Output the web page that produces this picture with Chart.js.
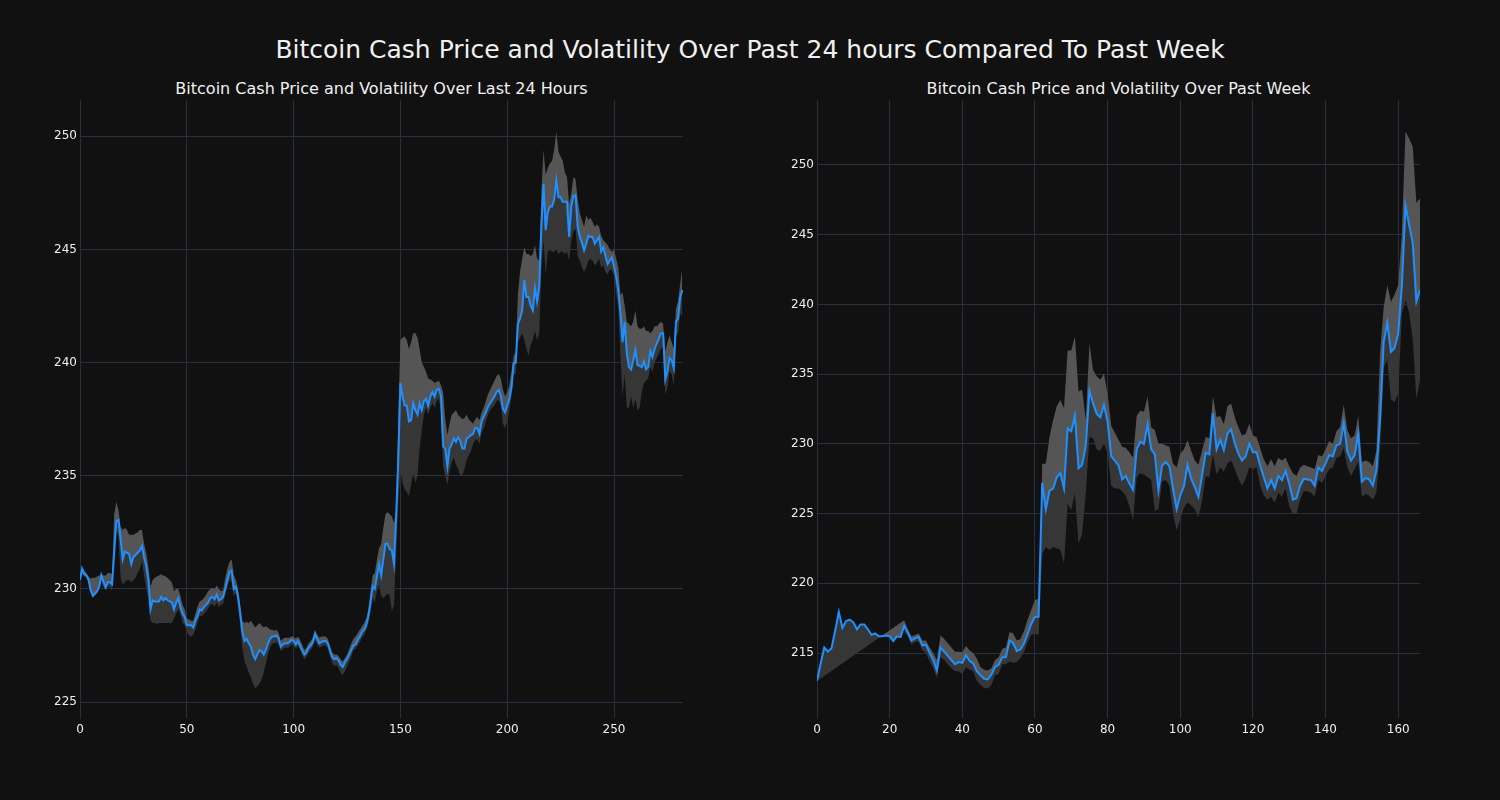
<!DOCTYPE html>
<html>
<head>
<meta charset="utf-8">
<script src="https://cdn.jsdelivr.net/npm/chart.js@4.4.1/dist/chart.umd.min.js"></script>
<style>
  body { margin: 0; background: #111111; width: 1500px; height: 800px; overflow: hidden; font-family: "DejaVu Sans", sans-serif; }
  .title { position: absolute; color: #f0f0f0; text-align: center; white-space: nowrap; }
  #mainTitle { left: 0; width: 1500px; top: 35px; font-size: 25px; line-height: 30px; }
  .sub { top: 79px; font-size: 16px; line-height: 20px; }
  #leftTitle { left: 80px; width: 603px; }
  #rightTitle { left: 817px; width: 603px; }
  .box { position: absolute; top: 89px; width: 700px; height: 682px; }
</style>
</head>
<body>
<div id="mainTitle" class="title">Bitcoin Cash Price and Volatility Over Past 24 hours Compared To Past Week</div>
<div id="leftTitle" class="title sub">Bitcoin Cash Price and Volatility Over Last 24 Hours</div>
<div id="rightTitle" class="title sub">Bitcoin Cash Price and Volatility Over Past Week</div>
<div class="box" style="left:0px"><canvas id="dayChart" width="700" height="682"></canvas></div>
<div class="box" style="left:737px"><canvas id="weekChart" width="700" height="682"></canvas></div>
<script>
// last 24 hours (5 min steps)
const dayPrice = [
  230.4, 230.9, 230.66, 230.6, 230.4, 229.95, 229.7, 229.8, 229.9, 230.1,
  230.6, 230.3, 230.07, 230.3, 230.3, 230.2, 231.6, 233.0, 233.05, 232.2,
  231.3, 231.65, 231.6, 231.55, 231.1, 231.4, 231.5, 231.6, 231.7, 231.9,
  231.4, 231.0, 230.4, 229.1, 229.5, 229.45, 229.45, 229.45, 229.65, 229.5,
  229.6, 229.5, 229.45, 229.4, 229.1, 229.4, 229.6, 229.2, 228.9, 228.75,
  228.4, 228.4, 228.4, 228.3, 228.6, 228.8, 229.1, 229.05, 229.2, 229.3,
  229.4, 229.6, 229.65, 229.55, 229.75, 229.5, 229.55, 229.65, 230.0, 230.4,
  230.75, 230.8, 230.0, 230.1, 229.65, 228.9, 228.1, 227.7, 227.8, 227.6,
  227.45, 227.1, 226.9, 227.1, 227.3, 227.25, 227.1, 227.3, 227.6, 227.8,
  227.9, 227.9, 227.95, 227.8, 227.45, 227.55, 227.6, 227.6, 227.65, 227.75,
  227.7, 227.55, 227.7, 227.5, 227.3, 227.1, 227.2, 227.4, 227.5, 227.65,
  228.0, 227.8, 227.6, 227.65, 227.7, 227.7, 227.6, 227.3, 227.0, 226.9,
  226.95, 226.85, 226.65, 226.55, 226.75, 226.9, 227.1, 227.3, 227.5, 227.55,
  227.75, 227.9, 228.1, 228.2, 228.4, 228.8, 229.4, 230.1, 230.0, 230.55,
  231.1, 230.6, 231.3, 232.0, 232.0, 231.75, 231.7, 231.1, 233.2, 235.7,
  239.1, 238.5, 238.1, 238.1, 237.4, 237.45, 238.2, 237.9, 237.7, 238.2,
  237.9, 238.3, 238.4, 238.1, 238.5, 238.7, 238.5, 238.8, 238.85, 238.5,
  236.3, 236.2, 235.4, 236.2, 236.4, 236.65, 236.5, 236.7, 236.55, 236.2,
  236.2, 236.65, 236.7, 236.8, 236.85, 237.1, 237.1, 236.85, 237.4, 237.6,
  237.8, 238.05, 238.2, 238.35, 238.5, 238.7, 238.8, 238.55, 237.95, 237.8,
  238.1, 238.4, 238.9, 239.95, 240.0, 241.7, 241.95, 242.3, 243.65, 242.9,
  242.9, 242.5, 242.3, 243.3, 242.7, 243.35, 246.0, 247.9, 245.85, 246.65,
  246.9, 246.9, 247.2, 248.05, 247.3, 247.3, 247.1, 247.1, 247.1, 245.55,
  246.9, 247.35, 247.4, 246.0, 245.55, 245.3, 244.95, 245.25, 245.6, 245.55,
  245.55, 245.25, 245.4, 245.55, 244.9, 245.1, 244.7, 244.35, 244.5, 244.65,
  244.25, 243.8, 243.2, 242.2, 240.9, 241.8, 240.4, 239.8, 239.7, 240.1,
  240.55, 239.9, 239.85, 239.8, 240.05, 239.7, 239.8, 240.5, 240.25, 240.6,
  240.85, 241.05, 241.3, 241.3, 239.25, 239.6, 240.2, 240.1, 239.75, 241.8,
  241.95, 242.9, 243.2
];
const dayUpper = [
  230.6, 230.95, 230.8, 230.7, 230.55, 230.45, 230.5, 230.5, 230.55, 230.6,
  230.65, 230.6, 230.6, 230.7, 230.7, 230.65, 233.3, 233.85, 233.5, 232.75,
  232.6, 232.7, 232.6, 232.4, 232.4, 232.4, 232.45, 232.5, 232.6, 232.6,
  232.0, 231.6, 231.0, 230.1, 230.4, 230.5, 230.55, 230.6, 230.65, 230.6,
  230.55, 230.5, 230.4, 230.3, 229.9, 230.0, 230.0, 229.7, 229.3, 229.1,
  228.7, 228.65, 228.6, 228.6, 228.9, 229.2, 229.45, 229.5, 229.6, 229.75,
  229.9, 230.0, 230.05, 230.0, 230.15, 230.0, 229.9, 229.95, 230.5, 230.9,
  231.2, 231.3, 230.6, 230.4, 230.0, 229.3, 228.6, 228.5, 228.55, 228.5,
  228.6, 228.45, 228.3, 228.4, 228.5, 228.4, 228.3, 228.35, 228.3, 228.2,
  228.2, 228.15, 228.2, 228.05, 227.7, 227.8, 227.85, 227.85, 227.85, 227.9,
  227.9, 227.8, 227.9, 227.75, 227.55, 227.3, 227.4, 227.6, 227.7, 227.85,
  228.2, 228.0, 227.85, 227.9, 227.9, 227.9, 227.8, 227.5, 227.2, 227.1,
  227.1, 227.05, 226.9, 226.8, 226.95, 227.1, 227.35, 227.6, 227.8, 227.9,
  228.05, 228.2, 228.35, 228.5, 228.7, 229.1, 229.9, 230.6, 230.7, 231.3,
  231.8, 232.0, 232.7, 233.3, 233.4, 233.3, 233.2, 232.9, 233.6, 237.5,
  241.0, 241.1, 241.15, 241.0, 240.6, 240.9, 241.3, 241.3, 241.1, 240.6,
  240.0, 239.8, 239.6, 239.3, 239.25, 239.2, 239.1, 239.15, 239.2, 239.0,
  238.7, 237.5, 236.8, 237.3, 237.7, 237.8, 237.9, 237.7, 237.6, 237.5,
  237.55, 237.7, 237.5, 237.4, 237.3, 237.5, 237.6, 237.45, 237.8, 238.0,
  238.3, 238.6, 238.8, 239.0, 239.2, 239.4, 239.5, 239.3, 238.8, 238.5,
  238.7, 239.0, 239.6, 240.3, 240.5, 243.0, 244.0, 244.6, 245.1, 244.8,
  244.8, 244.7, 244.8, 245.2, 244.6, 244.5, 247.5, 249.4, 248.3, 248.6,
  248.8, 248.9, 249.4, 250.2, 249.3, 249.1, 248.9, 248.4, 248.2, 247.0,
  247.5, 248.2, 248.1, 247.2, 246.6, 246.3, 246.0, 246.5, 246.3, 246.4,
  246.2, 246.0, 246.1, 246.0, 245.6, 245.4, 245.3, 245.2, 245.0, 244.9,
  245.0, 244.6, 244.2, 243.0, 243.1, 242.5, 241.8, 241.7, 241.6, 241.8,
  242.3, 241.6, 241.5, 241.5, 241.6, 241.4, 241.4, 241.3, 241.4, 241.6,
  241.6, 241.7, 241.8, 241.7, 240.5, 240.9, 241.2, 240.9, 240.6, 242.4,
  242.7, 243.5, 244.2
];
const dayLower = [
  230.3, 230.7, 230.55, 230.5, 230.3, 229.85, 229.6, 229.7, 229.8, 230.0,
  230.4, 230.1, 229.95, 230.1, 230.1, 229.9, 231.4, 232.6, 232.3, 230.5,
  230.2, 230.3, 230.4, 230.4, 230.3, 230.4, 230.5, 230.7, 230.9, 231.2,
  230.6, 230.0, 229.6, 228.6, 228.5, 228.5, 228.45, 228.5, 228.5, 228.5,
  228.5, 228.5, 228.5, 228.5, 228.7, 228.9, 229.1, 228.9, 228.5, 228.4,
  228.1, 227.95, 227.9, 227.95, 228.2, 228.5, 228.8, 228.8, 228.9, 229.0,
  229.15, 229.3, 229.35, 229.2, 229.4, 229.2, 229.3, 229.35, 229.8, 230.1,
  230.4, 230.3, 229.7, 229.8, 229.3, 228.4, 227.4, 226.8, 226.6, 226.3,
  226.1, 225.8, 225.6, 225.7, 225.8, 226.0, 226.3, 226.7, 227.1, 227.4,
  227.6, 227.6, 227.65, 227.55, 227.25, 227.35, 227.4, 227.4, 227.45, 227.55,
  227.5, 227.35, 227.5, 227.3, 227.1, 226.9, 227.0, 227.2, 227.3, 227.45,
  227.75, 227.55, 227.4, 227.45, 227.5, 227.5, 227.4, 227.05, 226.75, 226.6,
  226.65, 226.5, 226.3, 226.2, 226.35, 226.55, 226.8, 227.0, 227.3, 227.35,
  227.5, 227.65, 227.85, 227.95, 228.15, 228.5, 229.0, 229.6, 229.4, 229.9,
  230.2, 229.7, 229.6, 229.7, 229.8, 229.7, 229.0, 229.3, 231.6, 233.8,
  235.2, 234.7, 234.4, 234.3, 234.1, 234.6, 235.1, 234.7, 235.0, 236.2,
  237.0, 237.7, 238.0, 237.7, 238.0, 238.2, 238.0, 238.3, 238.4, 237.8,
  235.4, 235.0, 234.6, 235.2, 235.6, 235.8, 235.5, 235.3, 235.0, 235.0,
  235.3, 235.7, 235.9, 236.1, 236.4, 236.6, 236.6, 236.4, 236.9, 237.1,
  237.4, 237.7, 237.9, 238.0, 238.1, 238.3, 238.35, 238.1, 237.3, 237.1,
  237.4, 237.9, 238.5, 239.5, 239.5, 240.9, 241.1, 241.3, 241.0, 240.6,
  240.3, 240.8, 241.0, 241.4, 241.0, 241.3, 244.2, 245.4, 243.9, 244.9,
  245.0, 244.9, 244.9, 245.0, 244.8, 244.9, 244.9, 244.8, 244.9, 244.5,
  245.4, 245.8, 245.9, 244.7, 244.5, 244.2, 244.0, 244.2, 244.5, 244.6,
  244.5, 244.3, 244.4, 244.6, 244.2, 244.3, 244.0, 243.9, 244.1, 244.1,
  243.8, 243.1, 242.4, 240.3, 238.5, 239.5, 238.0, 238.0, 238.5, 238.0,
  238.4, 237.9, 238.0, 238.7, 239.1, 239.2, 239.3, 239.8, 239.6, 240.0,
  240.2, 240.4, 240.6, 240.7, 238.6, 238.9, 239.6, 239.5, 239.0, 241.2,
  241.3, 242.2, 242.0
];

// past week (hourly)
const weekPrice = [
  213.0, 214.25, 215.4, 215.1, 215.35, 216.6, 217.95, 216.8, 217.3, 217.4,
  217.2, 216.7, 217.05, 217.05, 216.7, 216.3, 216.4, 216.2, 216.2, 216.25,
  216.2, 215.85, 216.2, 216.15, 216.95, 216.45, 215.9, 216.05, 216.15, 215.55,
  215.6, 215.0, 214.5, 213.75, 215.4, 215.1, 214.8, 214.5, 214.2, 214.35,
  214.3, 214.85, 214.45, 214.25, 213.7, 213.4, 213.15, 213.1, 213.45, 214.0,
  214.15, 214.7, 214.7, 215.9, 215.7, 215.15, 215.25, 215.7, 216.4, 217.1,
  217.6, 217.6, 227.2, 225.3, 226.65, 226.8, 227.6, 227.9, 226.8, 231.1,
  230.9, 232.0, 228.25, 228.5, 229.9, 233.8, 232.9, 232.15, 231.9, 232.8,
  231.6, 229.1, 228.8, 228.45, 227.45, 227.7, 227.15, 226.7, 229.6, 230.15,
  230.0, 231.4, 229.6, 229.25, 226.65, 228.45, 228.7, 228.4, 226.8, 225.3,
  226.3, 226.95, 228.5, 227.5, 226.9, 226.2, 227.75, 229.35, 229.25, 232.2,
  229.6, 230.3, 229.55, 230.75, 231.05, 230.05, 229.3, 228.8, 229.1, 230.0,
  229.4, 229.4, 228.45, 227.6, 226.8, 227.4, 226.8, 227.7, 227.4, 228.05,
  227.15, 226.0, 226.1, 227.0, 227.5, 227.45, 227.4, 227.0, 228.3, 228.05,
  228.6, 229.2, 229.1, 229.9, 230.0, 231.5, 229.45, 228.8, 229.2, 230.75,
  227.3, 227.55, 227.45, 227.0, 228.1, 231.7, 237.3, 238.7, 236.6, 236.9,
  237.9, 241.3, 247.1, 245.7, 244.4, 240.2, 241.05
];
const weekUpper = [
  213.0, null, null, null, null, null, null, null, null, null,
  null, null, null, null, null, null, null, null, null, null,
  null, null, null, null, 217.35, 216.7, 216.2, 216.3, 216.4, 215.9,
  215.9, 215.4, 215.0, 214.5, 216.25, 216.0, 215.7, 215.4, 215.1, 215.1,
  215.05, 215.5, 215.2, 215.0, 214.6, 214.0, 213.8, 213.75, 213.9, 214.5,
  214.7, 215.3, 215.4, 216.5, 216.4, 215.9, 216.0, 216.6, 217.4, 218.1,
  218.8, 218.9, 228.55, 228.6, 230.5, 231.7, 232.7, 233.15, 232.55, 236.7,
  236.7, 237.7, 233.75, 233.9, 231.7, 237.2, 235.3, 234.85, 234.6, 235.05,
  233.6, 231.3, 230.8, 230.3, 229.8, 229.7, 229.4, 229.0, 232.0, 232.4,
  232.3, 233.4, 231.2, 231.0, 230.0, 230.0, 229.9, 229.8, 228.6, 228.3,
  229.3, 229.6, 230.25, 229.5, 228.8, 228.5, 229.5, 230.5, 230.4, 233.4,
  231.9, 232.0, 231.4, 232.7, 232.9, 231.9, 231.2, 230.6, 230.7, 231.45,
  230.6, 230.5, 229.7, 228.9, 228.4, 228.9, 228.4, 229.0, 228.8, 229.0,
  228.4, 227.9, 227.7, 228.3, 228.5, 228.4, 228.3, 228.2, 229.2, 229.1,
  229.6, 230.2, 230.0, 230.9, 231.2, 232.8, 231.0, 230.4, 230.6, 232.0,
  228.7, 228.8, 228.7, 228.4, 229.5, 236.5, 239.8, 241.4, 240.2, 240.7,
  241.4, 245.1, 252.4, 251.9, 251.3, 247.3, 247.6
];
const weekLower = [
  null, null, null, null, null, null, null, null, null, null,
  null, null, null, null, null, null, null, null, null, null,
  null, null, null, null, 216.6, 216.2, 215.6, 215.8, 215.8, 215.2,
  215.0, 214.4, 213.9, 213.2, 214.7, 214.5, 214.2, 213.9, 213.7, 213.7,
  213.5, 214.0, 213.8, 213.7, 213.0, 212.7, 212.5, 212.45, 212.7, 213.4,
  213.5, 214.2, 214.2, 214.4, 214.3, 214.35, 214.6, 215.1, 215.8, 216.3,
  216.4, 216.3, 222.1, 222.6, 222.4, 222.6, 222.5, 222.4, 221.4, 225.7,
  225.25, 226.45, 222.85, 223.55, 226.45, 230.5, 230.4, 229.6, 229.5, 230.0,
  229.3, 227.0, 226.8, 226.8, 226.6, 226.3, 225.5, 224.5, 227.6, 227.9,
  227.8, 227.6, 227.4, 225.2, 225.3, 227.3, 227.4, 227.0, 225.0, 223.8,
  224.6, 225.4, 225.8, 225.6, 225.3, 224.75, 225.9, 227.7, 227.6, 229.2,
  227.8, 228.3, 228.0, 228.6, 228.8, 228.2, 227.5, 227.0, 227.5, 228.3,
  228.2, 228.3, 227.0, 226.3, 226.0, 226.2, 225.8, 226.5, 226.2, 226.8,
  225.5, 225.0, 225.0, 226.0, 226.6, 226.6, 226.5, 226.2, 227.4, 227.2,
  227.7, 228.2, 228.3, 229.0, 229.1, 229.7, 228.3, 227.7, 228.2, 228.7,
  226.2, 226.4, 226.3, 226.0, 226.5, 229.5, 235.5, 236.0, 233.2, 233.0,
  233.6, 239.3, 240.3, 239.4, 237.5, 233.2, 234.6
];

const bandLight = '#555555';
const bandDark = '#363636';
const gridColor = '#283040';
const tickColor = '#eeeeee';

function toPoints(values) {
  return values.map((v, i) => ({ x: i, y: v }));
}

function makeChart(canvasId, price, upper, lower, xMax, xStep, yMin, yMax) {
  const ctx = document.getElementById(canvasId).getContext('2d');
  return new Chart(ctx, {
    type: 'line',
    data: {
      datasets: [
        {
          label: 'Price',
          data: toPoints(price),
          borderColor: '#1e90ff',
          borderWidth: 2,
          pointRadius: 0,
          tension: 0,
          fill: false
        },
        {
          label: 'Upper',
          data: toPoints(upper),
          borderColor: 'rgba(0,0,0,0)',
          borderWidth: 0,
          pointRadius: 0,
          tension: 0,
          spanGaps: true,
          fill: { target: 0, above: bandLight, below: bandDark }
        },
        {
          label: 'Lower',
          data: toPoints(lower),
          borderColor: 'rgba(0,0,0,0)',
          borderWidth: 0,
          pointRadius: 0,
          tension: 0,
          fill: { target: 0, above: bandLight, below: bandDark }
        }
      ]
    },
    options: {
      responsive: false,
      animation: false,
      events: [],
      layout: { padding: { top: 11, right: 17, left: 0, bottom: 0 } },
      plugins: {
        legend: { display: false },
        tooltip: { enabled: false }
      },
      scales: {
        x: {
          type: 'linear',
          min: 0,
          max: xMax,
          afterFit: scale => { scale.height = 53; },
          grid: { color: gridColor, lineWidth: 1, drawTicks: false },
          border: { display: false },
          ticks: {
            stepSize: xStep,
            includeBounds: false,
            color: tickColor,
            padding: 5,
            maxRotation: 0,
            font: { family: 'DejaVu Sans', size: 12 }
          }
        },
        y: {
          min: yMin,
          max: yMax,
          afterFit: scale => { scale.width = 80; },
          grid: { color: gridColor, lineWidth: 1, drawTicks: false },
          border: { display: true, color: gridColor, width: 1 },
          ticks: {
            stepSize: 5,
            includeBounds: false,
            color: tickColor,
            padding: 3,
            font: { family: 'DejaVu Sans', size: 12 }
          }
        }
      }
    }
  });
}

makeChart('dayChart', dayPrice, dayUpper, dayLower, 282.3, 50, 224.3, 251.6);
makeChart('weekChart', weekPrice, weekUpper, weekLower, 166, 20, 210.34, 254.66);
</script>
</body>
</html>
